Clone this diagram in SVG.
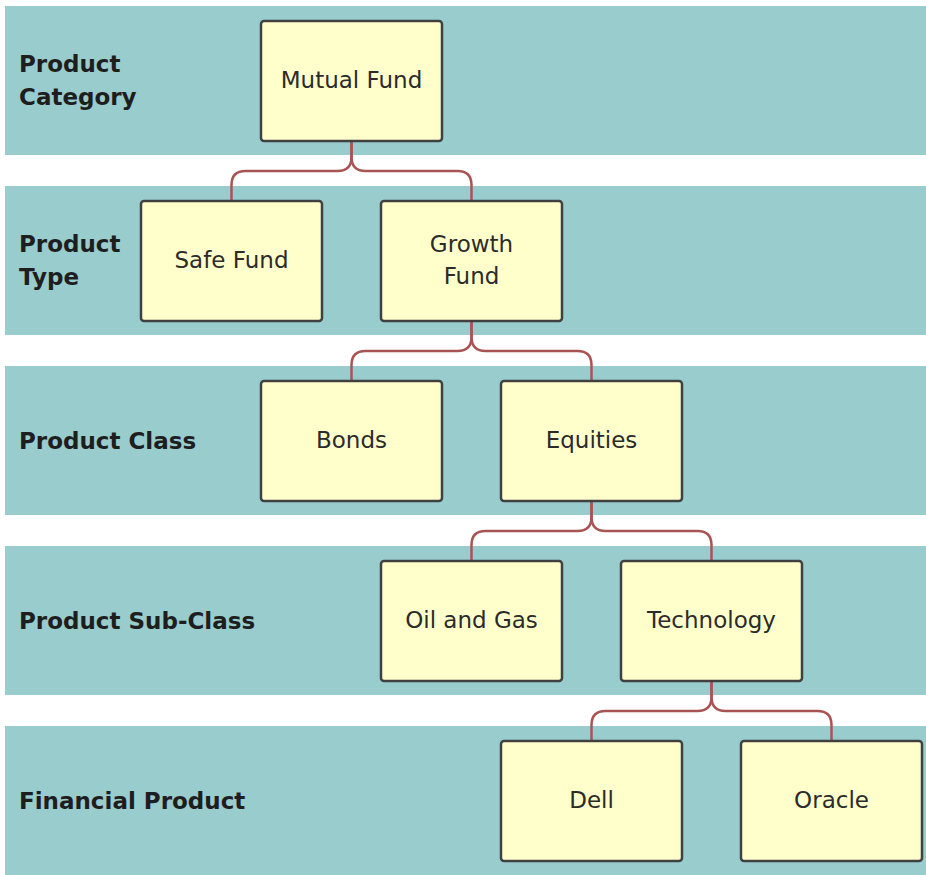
<svg xmlns="http://www.w3.org/2000/svg" width="926" height="875" viewBox="0 0 926 875">
<style>
.band{fill:#99cccc}
.box{fill:#ffffcc;stroke:#404040;stroke-width:2.5}
.nt{font-family:"DejaVu Sans",Verdana,sans-serif;font-size:23px;fill:#2b2b2b;text-anchor:middle}
.lb{font-family:"DejaVu Sans",Verdana,sans-serif;font-size:23px;font-weight:bold;fill:#1e1e1e}
.con{fill:none;stroke:#a85454;stroke-width:2.5}
</style>
<rect width="926" height="875" fill="#ffffff"/>
<g id="bands">
<rect class="band" x="5" y="6" width="921" height="149"/>
<rect class="band" x="5" y="186" width="921" height="149"/>
<rect class="band" x="5" y="366" width="921" height="149"/>
<rect class="band" x="5" y="546" width="921" height="149"/>
<rect class="band" x="5" y="726" width="921" height="149"/>
</g>
<g id="labels">
<text class="lb" x="19" y="72">Product</text>
<text class="lb" x="19" y="105">Category</text>
<text class="lb" x="19" y="252">Product</text>
<text class="lb" x="19" y="285">Type</text>
<text class="lb" x="19" y="449">Product Class</text>
<text class="lb" x="19" y="629">Product Sub-Class</text>
<text class="lb" x="19" y="809">Financial Product</text>
</g>
<g id="connectors">
<path class="con" d="M351.5,141 V157 Q351.5,171 337.5,171 H245.5 Q231.5,171 231.5,185 V201"/>
<path class="con" d="M351.5,141 V157 Q351.5,171 365.5,171 H457.5 Q471.5,171 471.5,185 V201"/>
<path class="con" d="M471.5,321 V337 Q471.5,351 457.5,351 H365.5 Q351.5,351 351.5,365 V381"/>
<path class="con" d="M471.5,321 V337 Q471.5,351 485.5,351 H577.5 Q591.5,351 591.5,365 V381"/>
<path class="con" d="M591.5,501 V517 Q591.5,531 577.5,531 H485.5 Q471.5,531 471.5,545 V561"/>
<path class="con" d="M591.5,501 V517 Q591.5,531 605.5,531 H697.5 Q711.5,531 711.5,545 V561"/>
<path class="con" d="M711.5,681 V697 Q711.5,711 697.5,711 H605.5 Q591.5,711 591.5,725 V741"/>
<path class="con" d="M711.5,681 V697 Q711.5,711 725.5,711 H817.5 Q831.5,711 831.5,725 V741"/>
</g>
<g id="mutual-fund"><rect class="box" x="261" y="21" width="181" height="120" rx="3"/><text class="nt" x="351.5" y="88">Mutual Fund</text></g>
<g id="safe-fund"><rect class="box" x="141" y="201" width="181" height="120" rx="3"/><text class="nt" x="231.5" y="268">Safe Fund</text></g>
<g id="growth-fund"><rect class="box" x="381" y="201" width="181" height="120" rx="3"/><text class="nt" x="471.5" y="252">Growth</text><text class="nt" x="471.5" y="284">Fund</text></g>
<g id="bonds"><rect class="box" x="261" y="381" width="181" height="120" rx="3"/><text class="nt" x="351.5" y="448">Bonds</text></g>
<g id="equities"><rect class="box" x="501" y="381" width="181" height="120" rx="3"/><text class="nt" x="591.5" y="448">Equities</text></g>
<g id="oil-and-gas"><rect class="box" x="381" y="561" width="181" height="120" rx="3"/><text class="nt" x="471.5" y="628">Oil and Gas</text></g>
<g id="technology"><rect class="box" x="621" y="561" width="181" height="120" rx="3"/><text class="nt" x="711.5" y="628">Technology</text></g>
<g id="dell"><rect class="box" x="501" y="741" width="181" height="120" rx="3"/><text class="nt" x="591.5" y="808">Dell</text></g>
<g id="oracle"><rect class="box" x="741" y="741" width="181" height="120" rx="3"/><text class="nt" x="831.5" y="808">Oracle</text></g>
</svg>
